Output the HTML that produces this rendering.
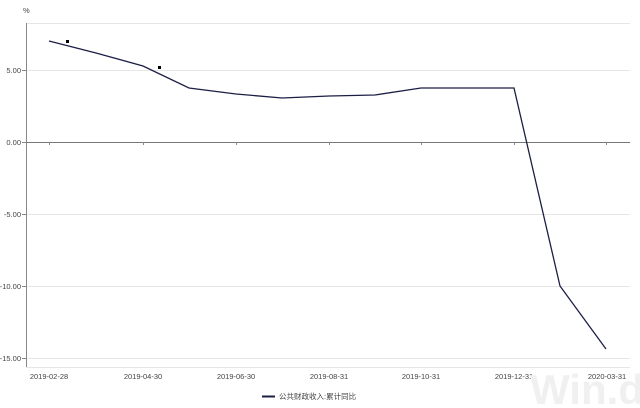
<!DOCTYPE html>
<html><head><meta charset="utf-8"><style>
body{margin:0;background:#fff;}
svg{display:block;font-family:"Liberation Sans","Noto Sans CJK SC",sans-serif;}
</style></head><body>
<svg width="640" height="408" viewBox="0 0 640 408">
<g stroke="#e6e6e6" stroke-width="1">
<line x1="26" y1="23.5" x2="630" y2="23.5"/>
<line x1="26" y1="70.5" x2="630" y2="70.5"/>
<line x1="26" y1="214.5" x2="630" y2="214.5"/>
<line x1="26" y1="286.5" x2="630" y2="286.5"/>
<line x1="26" y1="358.5" x2="630" y2="358.5"/>
<line x1="26" y1="367.5" x2="630" y2="367.5"/>
</g>
<line x1="26.5" y1="23" x2="26.5" y2="367" stroke="#888"/>
<line x1="26" y1="142.5" x2="630" y2="142.5" stroke="#777"/>
<g stroke="#888">
<line x1="22" y1="70.5" x2="26" y2="70.5"/><line x1="22" y1="142.5" x2="26" y2="142.5"/>
<line x1="22" y1="214.5" x2="26" y2="214.5"/><line x1="22" y1="286.5" x2="26" y2="286.5"/>
<line x1="22" y1="358.5" x2="26" y2="358.5"/>
<line x1="49.5" y1="142" x2="49.5" y2="145"/><line x1="143.5" y1="142" x2="143.5" y2="145"/>
<line x1="236.5" y1="142" x2="236.5" y2="145"/><line x1="329.5" y1="142" x2="329.5" y2="145"/>
<line x1="421.5" y1="142" x2="421.5" y2="145"/><line x1="514.5" y1="142" x2="514.5" y2="145"/>
<line x1="606.5" y1="142" x2="606.5" y2="145"/>
</g>
<g font-size="7.5" fill="#444" text-anchor="end">
<text x="21" y="73">5.00</text><text x="21" y="145">0.00</text>
<text x="21" y="217">-5.00</text><text x="21" y="289">-10.00</text><text x="21" y="361">-15.00</text>
</g>
<text x="23" y="13" font-size="7.5" fill="#444">%</text>
<g font-size="7.5" fill="#444" text-anchor="middle">
<text x="49" y="379">2019-02-28</text><text x="143" y="379">2019-04-30</text>
<text x="236" y="379">2019-06-30</text><text x="329" y="379">2019-08-31</text>
<text x="421" y="379">2019-10-31</text><text x="514" y="379">2019-12-31</text>
<text x="607" y="379">2020-03-31</text>
</g>
<text x="530" y="404" font-size="42" font-weight="bold" fill="#f0f0f0">Win.d</text>
<polyline fill="none" stroke="#1c1f45" stroke-width="1.3" points="49,41 96,53 143,66 189,88 236,94 282,98 329,96 375,95 421,88 514,88 560,286 606,349"/>
<rect x="66" y="40" width="3" height="3" fill="#000"/>
<rect x="158" y="66" width="3" height="3" fill="#000"/>
<line x1="262" y1="396.5" x2="275" y2="396.5" stroke="#1c1f45" stroke-width="2"/>
<text x="279" y="399" font-size="7.5" fill="#444">公共财政收入:累计同比</text>
</svg>
</body></html>
